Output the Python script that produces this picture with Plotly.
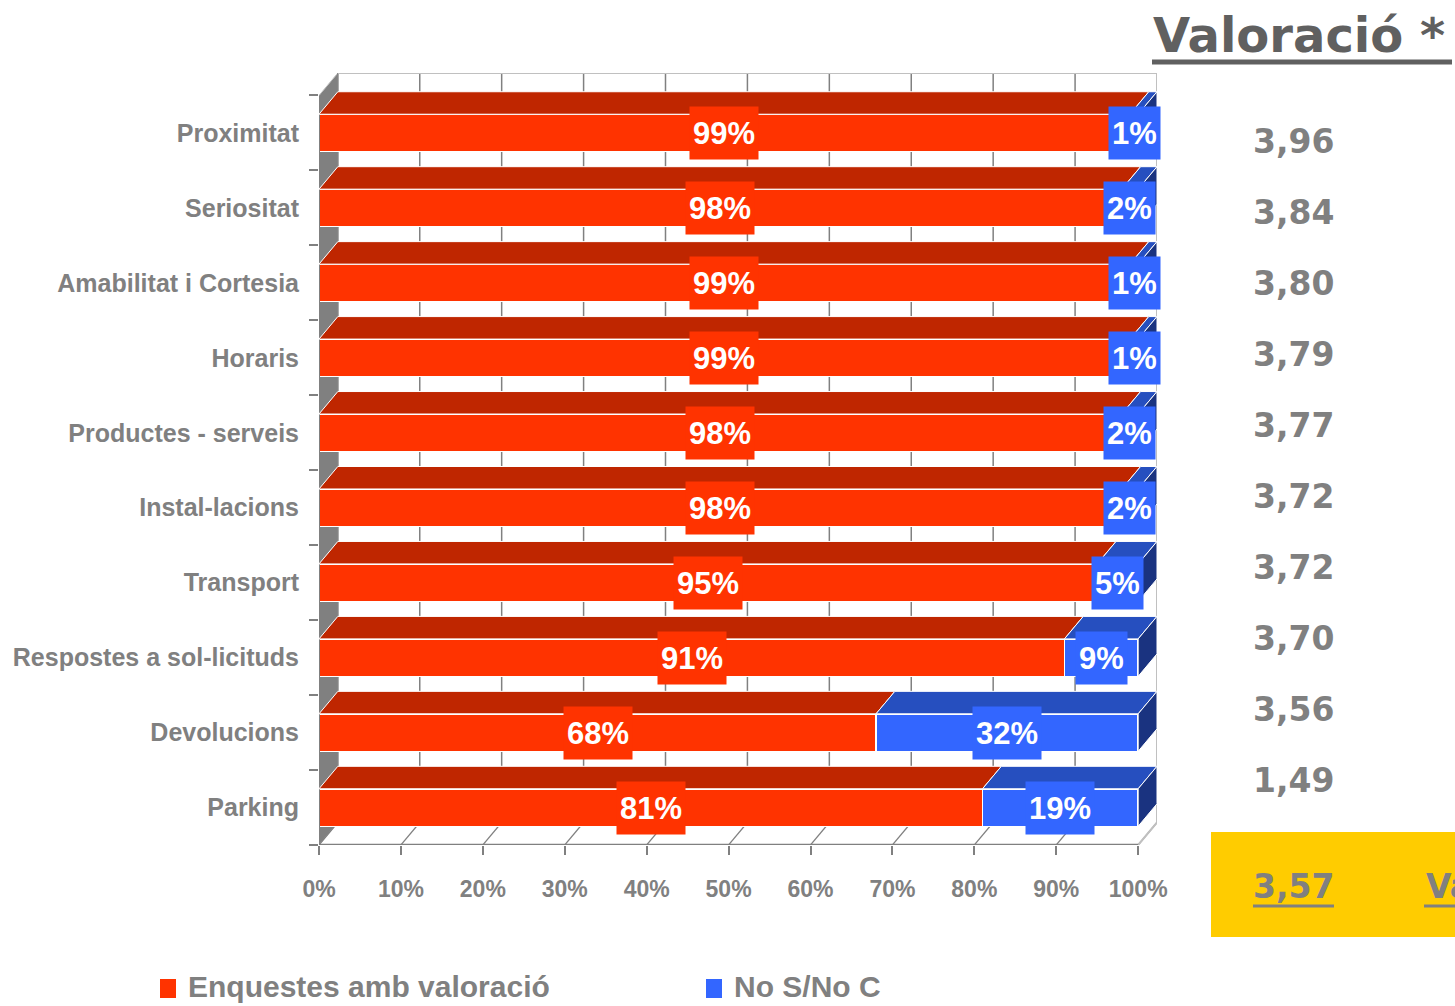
import plotly.graph_objects as go

# ---------------- data ----------------
categories = ["Proximitat", "Seriositat", "Amabilitat i Cortesia", "Horaris",
              "Productes - serveis", "Instal-lacions", "Transport",
              "Respostes a sol-licituds", "Devolucions", "Parking"]
with_rating = [99, 98, 99, 99, 98, 98, 95, 91, 68, 81]
no_answer = [1, 2, 1, 1, 2, 2, 5, 9, 32, 19]
ratings = ["3,96", "3,84", "3,80", "3,79", "3,77", "3,72", "3,72", "3,70", "3,56", "1,49"]
mean_rating = "3,57"
x_ticks = [0, 10, 20, 30, 40, 50, 60, 70, 80, 90, 100]
series_names = ["Enquestes amb valoració", "No S/No C"]

# ---------------- style ----------------
W, H = 1455, 1006
ML, MT = 319, 73
PLOT_R, PLOT_B = 1157, 845
MR, MB = W - PLOT_R, H - PLOT_B
RED, RED_TOP = "#FF3300", "#BF2600"
BLUE, BLUE_TOP, BLUE_SIDE = "#3366FF", "#264FBF", "#1A3380"
GRAY, DGRAY = "#808080", "#606060"
NARROW = "Liberation Sans, Arial, sans-serif"
WIDE = "DejaVu Sans, Verdana, Tahoma, sans-serif"
DX, DY = 2.3, 0.3      # 3-D depth offsets in axis units
BW = 0.5               # bar thickness

n = len(categories)
ypos = [n - 1 - i for i in range(n)]

fig = go.Figure()
fig.add_trace(go.Bar(y=ypos, x=with_rating, orientation="h", name=series_names[0],
                     width=BW, showlegend=False,
                     marker=dict(color=RED, line=dict(color="white", width=1.5))))
fig.add_trace(go.Bar(y=ypos, x=no_answer, orientation="h", name=series_names[1],
                     width=BW, showlegend=False,
                     marker=dict(color=BLUE, line=dict(color="white", width=1.5))))

shapes = []
def poly(pts, fill, line="white", lw=1, layer="above"):
    p = "M " + " L ".join(f"{x},{y}" for x, y in pts) + " Z"
    shapes.append(dict(type="path", path=p, xref="x", yref="y", fillcolor=fill,
                       line=dict(color=line, width=lw), layer=layer))

def seg(x0, y0, x1, y1, color, w=1.5, layer="below"):
    shapes.append(dict(type="line", x0=x0, y0=y0, x1=x1, y1=y1, xref="x", yref="y",
                       line=dict(color=color, width=w), layer=layer))

ybot, ytop = -0.5, n - 0.5
# left wall
poly([(0, ybot), (0, ytop), (DX, ytop + DY), (DX, ybot + DY)], GRAY, line="#C0C0C0", lw=1, layer="below")
# back wall gridlines and outline
for v in x_ticks:
    seg(v + DX, ybot + DY, v + DX, ytop + DY, GRAY, 1.5)
    seg(v, ybot, v + DX, ybot + DY, GRAY, 1.2)
seg(DX, ytop + DY, 100 + DX, ytop + DY, "#C0C0C0", 2)
seg(100 + DX, ytop + DY, 100 + DX, ybot + DY, "#C0C0C0", 2)
seg(100 + DX, ybot + DY, 100, ybot, "#C0C0C0", 2)
seg(-1.1, ybot, 100, ybot, GRAY, 2.5, "above")
seg(0, ybot, 0, ytop, GRAY, 2, "above")

# 3-D faces of the bars
for yc, a, b in zip(ypos, with_rating, no_answer):
    t = yc + BW / 2
    poly([(0, t), (a, t), (a + DX, t + DY), (DX, t + DY)], RED_TOP)
    poly([(a, t), (a + b, t), (a + b + DX, t + DY), (a + DX, t + DY)], BLUE_TOP)
    e = a + b
    poly([(e, t - BW), (e, t), (e + DX, t + DY), (e + DX, t - BW + DY)], BLUE_SIDE)

annotations = []
for yc, a, b in zip(ypos, with_rating, no_answer):
    annotations.append(dict(x=a / 2, y=yc, xref="x", yref="y", text=f"<b>{a}%</b>",
                            showarrow=False, bgcolor=RED, borderpad=3, height=46,
                            font=dict(family=NARROW, size=31, color="white")))
    annotations.append(dict(x=a + b / 2, y=yc, xref="x", yref="y", text=f"<b>{b}%</b>",
                            showarrow=False, bgcolor=BLUE, borderpad=3, height=46,
                            font=dict(family=NARROW, size=31, color="white")))

PW, PH = PLOT_R - ML, PLOT_B - MT
def px(xp):          # page pixel -> paper x
    return (xp - ML) / PW
def py(yp):          # page pixel -> paper y
    return (PLOT_B - yp) / PH

# right column: ratings
for i, r in enumerate(ratings):
    annotations.append(dict(x=px(1293), y=py(141 + 71.1 * i), xref="paper", yref="paper",
                            text=f"<b>{r}</b>", showarrow=False, xanchor="center", yanchor="middle",
                            font=dict(family=WIDE, size=33, color=GRAY)))
# title
annotations.append(dict(x=px(1151), y=py(35), xref="paper", yref="paper", text="<b>Valoració *</b>",
                        showarrow=False, xanchor="left", yanchor="middle",
                        font=dict(family=WIDE, size=48, color=DGRAY)))
shapes.append(dict(type="line", xref="paper", yref="paper", x0=px(1152), x1=px(1452),
                   y0=py(62), y1=py(62), line=dict(color=DGRAY, width=5)))
# yellow summary box
shapes.append(dict(type="rect", xref="paper", yref="paper", x0=px(1211), x1=px(1470),
                   y0=py(832), y1=py(937), fillcolor="#FFCC00", line=dict(width=0), layer="below"))
annotations.append(dict(x=px(1293), y=py(886), xref="paper", yref="paper", text=f"<b>{mean_rating}</b>",
                        showarrow=False, xanchor="center", yanchor="middle",
                        font=dict(family=WIDE, size=33, color=GRAY)))
shapes.append(dict(type="line", xref="paper", yref="paper", x0=px(1253), x1=px(1334),
                   y0=py(906), y1=py(906), line=dict(color=GRAY, width=3)))
annotations.append(dict(x=px(1424), y=py(886), xref="paper", yref="paper", text="<b>Va</b>",
                        showarrow=False, xanchor="left", yanchor="middle",
                        font=dict(family=WIDE, size=33, color=GRAY)))
shapes.append(dict(type="line", xref="paper", yref="paper", x0=px(1424), x1=px(1470),
                   y0=py(906), y1=py(906), line=dict(color=GRAY, width=3)))

# legend (drawn manually)
legend_items = [(series_names[0], RED, 160), (series_names[1], BLUE, 706)]
for name, col, x0 in legend_items:
    shapes.append(dict(type="rect", xref="paper", yref="paper", x0=px(x0), x1=px(x0 + 16),
                       y0=py(979), y1=py(998), fillcolor=col, line=dict(width=0)))
    annotations.append(dict(x=px(x0 + 26), y=py(986), xref="paper", yref="paper",
                            text=f"<b>{name}</b>", showarrow=False, xanchor="left", yanchor="middle",
                            font=dict(family=NARROW, size=30, color=GRAY)))

fig.update_layout(
    width=W, height=H, margin=dict(l=ML, r=MR, t=MT, b=MB, pad=0),
    barmode="stack", plot_bgcolor="white", paper_bgcolor="white",
    template="none",
    shapes=shapes, annotations=annotations,
    showlegend=False,
    xaxis=dict(range=[0, 100 + DX], tickvals=x_ticks, ticktext=[f"<b>{v}%</b>" for v in x_ticks],
               showgrid=False, zeroline=False, showline=False, ticks="outside", ticklen=9,
               tickcolor=GRAY, tickwidth=2, ticklabelstandoff=14,
               tickfont=dict(family=NARROW, size=23, color=GRAY), fixedrange=True),
    yaxis=dict(range=[ybot, ytop + DY], tickvals=ypos, ticktext=[f"<b>{c}</b>" for c in categories],
               showgrid=False, zeroline=False, showline=False, ticks="",
               minor=dict(tickvals=[k - 0.5 for k in range(n + 1)], ticks="outside", ticklen=9,
                          tickcolor=GRAY, tickwidth=2),
               ticklabelstandoff=19,
               tickfont=dict(family=NARROW, size=25, color=GRAY), fixedrange=True),
)

fig.write_html("out.html", config={"displayModeBar": False},
               post_script="document.body.style.margin='0px';document.body.style.overflow='hidden';")
